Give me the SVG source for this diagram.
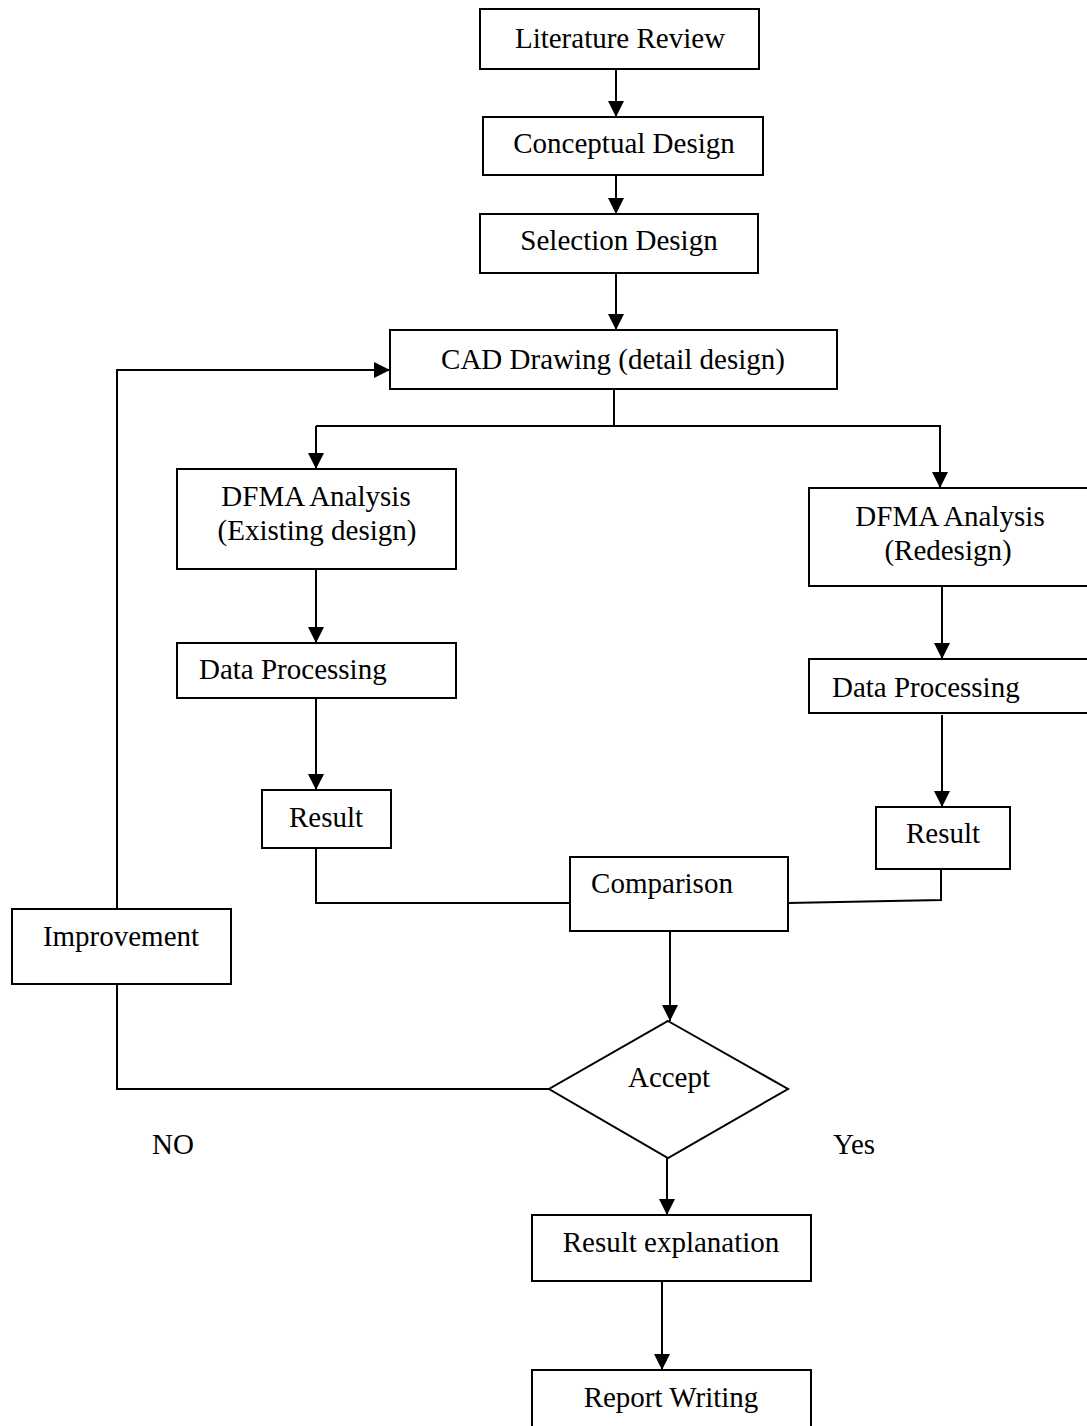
<svg xmlns="http://www.w3.org/2000/svg" width="1087" height="1426" viewBox="0 0 1087 1426">
  <style>
    .box { fill: #ffffff; stroke: #000000; stroke-width: 2; }
    .lbl { font-family: "Liberation Serif", "Times New Roman", serif; font-size: 29px; fill: #000000; text-anchor: middle; }
    .lbl-start { font-family: "Liberation Serif", "Times New Roman", serif; font-size: 29px; fill: #000000; }
    .wire { fill: none; stroke: #000000; stroke-width: 2; }
    .arrow { fill: none; stroke: #000000; stroke-width: 2; marker-end: url(#head); }
  </style>
  <defs>
    <marker id="head" markerUnits="userSpaceOnUse" markerWidth="16" markerHeight="16" viewBox="0 0 16 16" refX="16" refY="8" orient="auto">
      <path d="M0,0 L16,8 L0,16 Z" fill="#000000"/>
    </marker>
  </defs>
  <rect width="1087" height="1426" fill="#ffffff"/>

  <g id="connectors">
    <line class="arrow" x1="616" y1="69" x2="616" y2="117"/>
    <line class="arrow" x1="616" y1="175" x2="616" y2="214"/>
    <line class="arrow" x1="616" y1="273" x2="616" y2="330"/>
    <polyline class="wire" points="614,389 614,426"/>
    <line class="wire" x1="316" y1="426" x2="941" y2="426"/>
    <line class="arrow" x1="316" y1="426" x2="316" y2="469"/>
    <line class="arrow" x1="940" y1="426" x2="940" y2="488"/>
    <line class="arrow" x1="316" y1="569" x2="316" y2="643"/>
    <line class="arrow" x1="316" y1="698" x2="316" y2="790"/>
    <line class="arrow" x1="942" y1="586" x2="942" y2="659"/>
    <line class="arrow" x1="942" y1="715" x2="942" y2="807"/>
    <polyline class="wire" points="316,848 316,903 570,903"/>
    <polyline class="wire" points="941,869 941,900 788,903"/>
    <line class="arrow" x1="670" y1="931" x2="670" y2="1021"/>
    <polyline class="wire" points="549,1089 117,1089 117,984"/>
    <polyline class="arrow" points="117,909 117,370 390,370"/>
    <line class="arrow" x1="667" y1="1158" x2="667" y2="1215"/>
    <line class="arrow" x1="662" y1="1281" x2="662" y2="1370"/>
  </g>

  <g id="literature-review">
    <rect class="box" x="480" y="9" width="279" height="60"/>
    <text class="lbl" x="620" y="48">Literature Review</text>
  </g>
  <g id="conceptual-design">
    <rect class="box" x="483" y="117" width="280" height="58"/>
    <text class="lbl" x="624" y="153">Conceptual Design</text>
  </g>
  <g id="selection-design">
    <rect class="box" x="480" y="214" width="278" height="59"/>
    <text class="lbl" x="619" y="250">Selection Design</text>
  </g>
  <g id="cad-drawing">
    <rect class="box" x="390" y="330" width="447" height="59"/>
    <text class="lbl" x="613" y="369">CAD Drawing (detail design)</text>
  </g>
  <g id="dfma-existing">
    <rect class="box" x="177" y="469" width="279" height="100"/>
    <text class="lbl" x="316" y="506">DFMA Analysis</text>
    <text class="lbl" x="317" y="540">(Existing design)</text>
  </g>
  <g id="data-processing-left">
    <rect class="box" x="177" y="643" width="279" height="55"/>
    <text class="lbl-start" x="199" y="679">Data Processing</text>
  </g>
  <g id="result-left">
    <rect class="box" x="262" y="790" width="129" height="58"/>
    <text class="lbl" x="326" y="827">Result</text>
  </g>
  <g id="dfma-redesign">
    <rect class="box" x="809" y="488" width="283" height="98"/>
    <text class="lbl" x="950" y="526">DFMA Analysis</text>
    <text class="lbl" x="948" y="560">(Redesign)</text>
  </g>
  <g id="data-processing-right">
    <rect class="box" x="809" y="659" width="283" height="54"/>
    <text class="lbl-start" x="832" y="697">Data Processing</text>
  </g>
  <g id="result-right">
    <rect class="box" x="876" y="807" width="134" height="62"/>
    <text class="lbl" x="943" y="843">Result</text>
  </g>
  <g id="comparison">
    <rect class="box" x="570" y="857" width="218" height="74"/>
    <text class="lbl" x="662" y="893">Comparison</text>
  </g>
  <g id="improvement">
    <rect class="box" x="12" y="909" width="219" height="75"/>
    <text class="lbl" x="121" y="946">Improvement</text>
  </g>
  <g id="accept">
    <polygon class="box" points="668,1021 788,1089 668,1158 549,1089"/>
    <text class="lbl" x="669" y="1087">Accept</text>
  </g>
  <g id="branch-labels">
    <text class="lbl" x="173" y="1154">NO</text>
    <text class="lbl" x="854" y="1154">Yes</text>
  </g>
  <g id="result-explanation">
    <rect class="box" x="532" y="1215" width="279" height="66"/>
    <text class="lbl" x="671" y="1252">Result explanation</text>
  </g>
  <g id="report-writing">
    <rect class="box" x="532" y="1370" width="279" height="70"/>
    <text class="lbl" x="671" y="1407">Report Writing</text>
  </g>
</svg>
